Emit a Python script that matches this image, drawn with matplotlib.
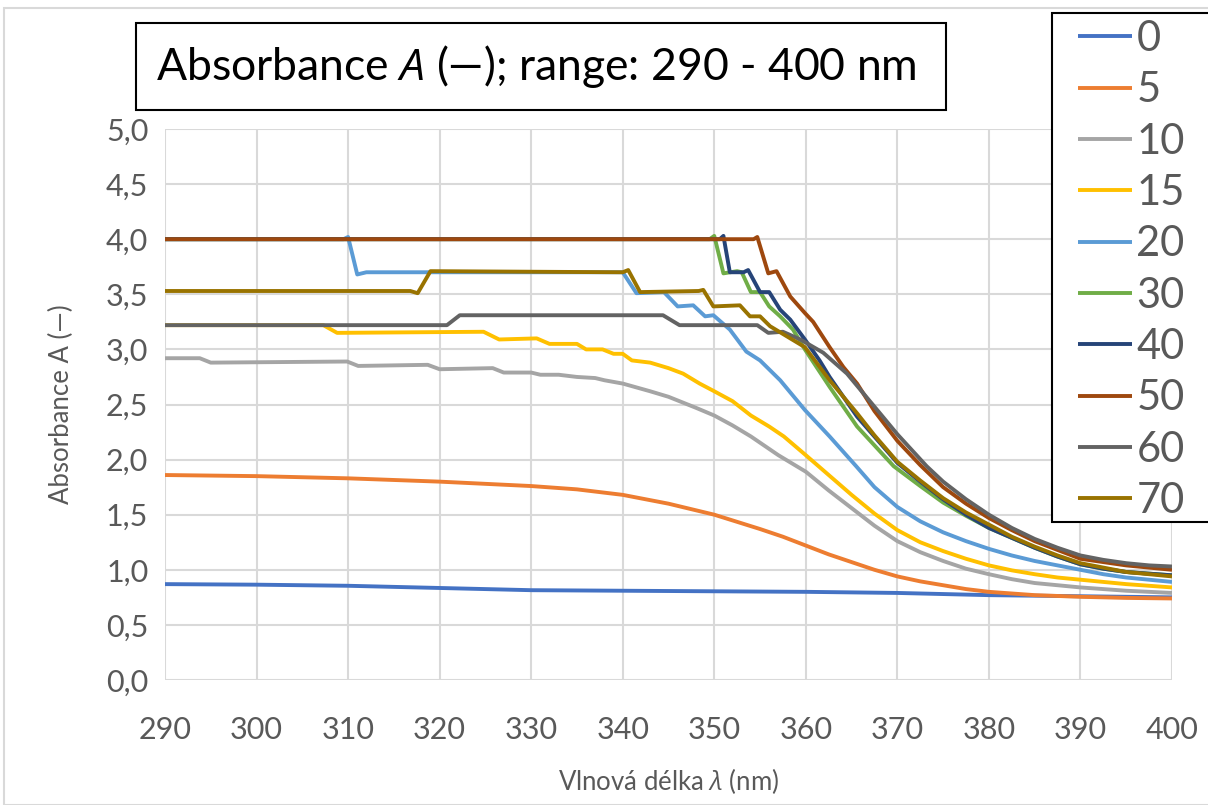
import matplotlib
matplotlib.use("Agg")
import matplotlib.pyplot as plt
from matplotlib.patches import Rectangle
from matplotlib.ticker import FuncFormatter, MultipleLocator

plt.rcParams['font.family'] = ['Lato', 'DejaVu Sans']
plt.rcParams['mathtext.fontset'] = 'custom'
plt.rcParams['mathtext.it'] = 'Open Sans:italic'
plt.rcParams['mathtext.rm'] = 'Lato'

# cas (min) -> legenda
labels = ["0", "5", "10", "15", "20", "30", "40", "50", "60", "70"]
colors = ["#4472C4", "#ED7D31", "#A5A5A5", "#FFC000", "#5B9BD5",
          "#70AD47", "#264478", "#9E480E", "#636363", "#997300"]

x0 = [290, 300, 310, 320, 330, 340, 350, 360, 370, 380, 390, 400]
y0 = [0.87, 0.865, 0.855, 0.835, 0.815, 0.81, 0.805, 0.80, 0.79, 0.77, 0.76, 0.75]

x5 = [290, 300, 310, 320, 330, 335, 340, 345, 350, 355, 357.5, 360, 362.5, 365, 367.5, 370, 372.5, 375,
      377.5, 380, 385, 390, 395, 400]
y5 = [1.86, 1.85, 1.83, 1.80, 1.76, 1.73, 1.68, 1.60, 1.50, 1.37, 1.30, 1.22, 1.14, 1.07, 1.00, 0.94, 0.895, 0.86,
      0.825, 0.80, 0.77, 0.755, 0.745, 0.74]

x10 = [290, 293.8, 295, 309.9, 311.1, 318.7, 320, 325.8, 327, 330, 331, 333, 335, 337, 338, 340, 343, 345,
       348, 350, 352, 354, 357, 360, 362.5, 365, 367.5, 370, 372.5, 375, 377.5, 380, 382.5, 385, 387.5, 390,
       392.5, 395, 397.5, 400]
y10 = [2.92, 2.92, 2.88, 2.89, 2.85, 2.86, 2.82, 2.83, 2.79, 2.79, 2.77, 2.77, 2.75, 2.74, 2.72, 2.69, 2.62, 2.57,
       2.47, 2.40, 2.31, 2.21, 2.04, 1.89, 1.72, 1.56, 1.40, 1.26, 1.16, 1.08, 1.01, 0.96, 0.915, 0.88, 0.86, 0.84,
       0.825, 0.81, 0.80, 0.79]

x15 = [290, 307.3, 308.8, 324.8, 326.5, 330.6, 332, 335, 336, 337.8, 339, 340, 341, 343, 345, 346.6, 348.4,
       350, 352, 354, 356, 357.6, 360, 362.5, 365, 367.5, 370, 372.5, 375, 377.5, 380, 382.5, 385, 387.5, 390,
       392.5, 395, 397.5, 400]
y15 = [3.22, 3.22, 3.15, 3.16, 3.09, 3.10, 3.05, 3.05, 3.00, 3.00, 2.96, 2.96, 2.90, 2.88, 2.83, 2.78, 2.69,
       2.62, 2.53, 2.40, 2.30, 2.21, 2.04, 1.86, 1.68, 1.51, 1.36, 1.25, 1.17, 1.10, 1.04, 0.995, 0.96, 0.93, 0.91,
       0.89, 0.87, 0.855, 0.84]

x20 = [290, 309.5, 310, 311, 312, 340, 341.5, 344.5, 346, 347.7, 349, 349.9, 351.7, 353.5, 355, 357.2,
       359.9, 362.6, 365.5, 367.5, 370, 372.5, 375, 377.5, 380, 382.5, 385, 387.5, 390, 392.5, 395, 397.5, 400]
y20 = [4.0, 4.0, 4.02, 3.68, 3.70, 3.70, 3.51, 3.52, 3.39, 3.40, 3.30, 3.31, 3.18, 2.98, 2.90, 2.72,
       2.45, 2.21, 1.94, 1.75, 1.57, 1.44, 1.34, 1.26, 1.19, 1.13, 1.08, 1.04, 1.00, 0.96, 0.93, 0.91, 0.89]

x30 = [290, 349.5, 350, 351, 352.5, 353, 354, 355, 356, 357.2, 358.6, 359.9, 362.6, 365.6, 369.6, 372.5, 375,
       377.5, 380, 382.5, 385, 387.5, 390, 392.5, 395, 397.5, 400]
y30 = [4.0, 4.0, 4.03, 3.69, 3.71, 3.70, 3.52, 3.52, 3.39, 3.30, 3.18, 3.00, 2.66, 2.30, 1.94, 1.76, 1.61,
       1.49, 1.38, 1.29, 1.20, 1.12, 1.05, 1.01, 0.98, 0.965, 0.95]

x40 = [290, 350.6, 351, 351.7, 353.2, 353.7, 355, 356, 357.2, 358.3, 359.9, 361.5, 362.6, 365.6, 370, 372.5,
       375, 377.5, 380, 382.5, 385, 387.5, 390, 392.5, 395, 397.5, 400]
y40 = [4.0, 4.0, 4.03, 3.70, 3.70, 3.72, 3.52, 3.52, 3.36, 3.27, 3.09, 2.90, 2.75, 2.39, 1.97, 1.80,
       1.64, 1.50, 1.38, 1.29, 1.20, 1.12, 1.05, 1.01, 0.98, 0.965, 0.95]

x50 = [290, 354.3, 354.7, 355.9, 356.8, 358.3, 359.9, 360.8, 362.6, 364.1, 365.6, 367.5, 370, 372.5, 375, 377.5,
       380, 382.5, 385, 387.5, 390, 392.5, 395, 397.5, 400]
y50 = [4.0, 4.0, 4.02, 3.69, 3.71, 3.48, 3.33, 3.25, 3.02, 2.84, 2.69, 2.44, 2.17, 1.95, 1.75, 1.60,
       1.47, 1.36, 1.26, 1.18, 1.10, 1.07, 1.04, 1.02, 1.00]

x60 = [290, 320.8, 322.2, 344.4, 346.2, 354.7, 355.9, 357.5, 359.4, 361.9, 364.5, 367, 370, 373.2, 375,
       377.5, 380, 382.5, 385, 387.5, 390, 392.5, 395, 397.5, 400]
y60 = [3.22, 3.22, 3.31, 3.31, 3.22, 3.22, 3.15, 3.16, 3.09, 2.97, 2.78, 2.53, 2.23, 1.94, 1.80,
       1.64, 1.50, 1.38, 1.28, 1.20, 1.13, 1.09, 1.06, 1.04, 1.03]

x70 = [290, 316.8, 317.6, 319, 340, 340.6, 341.9, 348.3, 348.8, 349.9, 352.8, 353.9, 355, 356.1, 358.3,
       359.9, 362.6, 365.6, 367.5, 370, 372.5, 375, 377.5, 380, 382.5, 385, 387.5, 390, 392.5, 395, 397.5, 400]
y70 = [3.53, 3.53, 3.51, 3.71, 3.70, 3.72, 3.52, 3.53, 3.54, 3.39, 3.40, 3.30, 3.30, 3.21, 3.10,
       3.02, 2.72, 2.42, 2.22, 1.98, 1.81, 1.65, 1.52, 1.41, 1.30, 1.21, 1.13, 1.06, 1.02, 0.98, 0.96, 0.94]

xs = [x0, x5, x10, x15, x20, x30, x40, x50, x60, x70]
ys = [y0, y5, y10, y15, y20, y30, y40, y50, y60, y70]

fig = plt.figure(figsize=(12.08, 8.05), dpi=100)
ax = fig.add_axes([165 / 1208, 125 / 805, (1172 - 165) / 1208, (680 - 129) / 805])

lines = []
for x, y, c, lab in zip(xs, ys, colors, labels):
    ln, = ax.plot(x, y, color=c, lw=2.8, label=lab, solid_joinstyle="round", solid_capstyle="butt")
    lines.append(ln)

ax.set_xlim(290, 400)
ax.set_ylim(0, 5)
ax.xaxis.set_major_locator(MultipleLocator(10))
ax.yaxis.set_major_locator(MultipleLocator(0.5))
ax.yaxis.set_major_formatter(FuncFormatter(lambda v, p: f"{v:.1f}".replace(".", ",")))
ax.grid(True, color="#D9D9D9", lw=1.5)
ax.set_axisbelow(True)
for s in ax.spines.values():
    s.set_visible(False)
ax.tick_params(length=0, labelsize=22, colors="#595959", pad=12)
ax.tick_params(axis="x", pad=26)

ax.set_ylabel("Absorbance A (—)", fontsize=18.5, color="#595959")
ax.yaxis.set_label_coords(-(165 - 74) / 1007, 0.5)
ax.set_xlabel("Vlnová délka $\\mathit{λ}$ (nm)", fontsize=18.5, color="#595959")
ax.xaxis.set_label_coords(0.5, -(766 - 680) / 551)

# titulek v rámečku
fig.patches.append(Rectangle((136 / 1208, 1 - 110 / 805), (946 - 136) / 1208, (110 - 23) / 805,
                             transform=fig.transFigure, fill=False, ec="black", lw=1.5))
fig.text(536 / 1208, 1 - 67 / 805, "Absorbance $\\mathit{A}$ (—); range: 290 - 400 nm",
         ha="center", va="center", fontsize=32, color="black")

# ramecek legendy (presahuje pravy okraj)
fig.patches.append(Rectangle((1052 / 1208, 1 - 522 / 805), 200 / 1208, (522 - 13) / 805,
                             transform=fig.transFigure, fc="white", ec="black", lw=1.5, zorder=2))
leg = fig.legend(handles=lines, labels=labels, loc="upper left",
                 bbox_to_anchor=(1078 / 1208, 1 - 20 / 805), fontsize=30, labelcolor="#595959",
                 frameon=False, handlelength=1.3, handletextpad=0.1, labelspacing=0.32,
                 borderpad=0, borderaxespad=0)
leg.set_zorder(3)

# okraj grafu
fig.patches.append(Rectangle((4 / 1208, 0), 1.0, 1 - 8 / 805, transform=fig.transFigure,
                             fill=False, ec="#D9D9D9", lw=1.5))

plt.savefig("out.png", dpi=100)
